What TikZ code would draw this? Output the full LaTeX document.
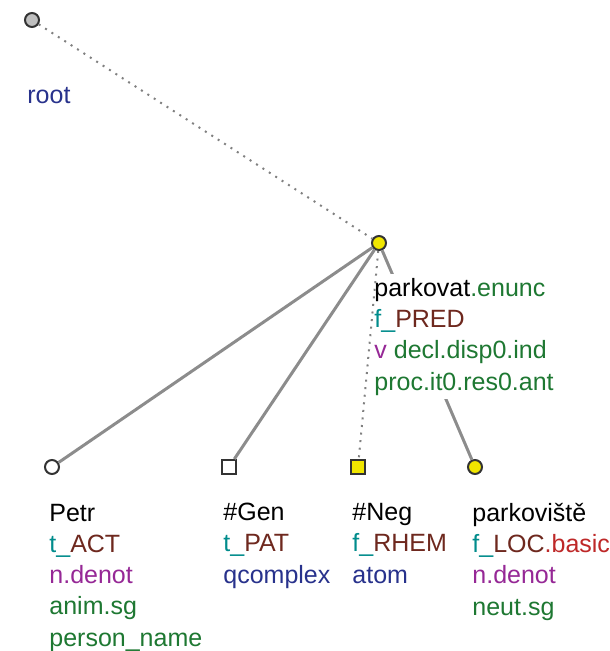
\documentclass[tikz,border=0pt]{standalone}
\usepackage{fontspec}
\setmainfont{Liberation Sans}
\usepackage{xcolor}
\usetikzlibrary{shapes.geometric, arrows, positioning, calc}
\definecolor{tcol}{RGB}{0,140,140}
\definecolor{funcol}{RGB}{110,40,30}
\definecolor{subcol}{RGB}{190,40,40}
\definecolor{poscol}{RGB}{150,40,150}
\definecolor{gramcol}{RGB}{30,120,50}
\definecolor{typecol}{RGB}{40,50,140}
\definecolor{nodeyellow}{RGB}{240,230,0}

\begin{document}
\begin{tikzpicture}[x=0.5pt, y=-0.5pt]
    \tikzstyle{tnode} = [circle, draw=black!80, line width=1pt, inner sep=0pt, minimum size=7pt, fill=white]
    \tikzstyle{tsquare} = [rectangle, draw=black!80, line width=1pt, inner sep=0pt, minimum size=7pt, fill=white]
    % anchor base = baseline of the last line
    \tikzstyle{tlabel} = [anchor=base west, align=left, inner xsep=1pt, inner ysep=2pt, fill=white, font=\fontsize{12.5}{15.6}\selectfont]
    \tikzstyle{edge} = [draw=black!45, line width=1.5pt]
    \tikzstyle{dotedge} = [draw=black!50, line width=1pt, dash pattern=on 1pt off 2.8pt]

    \useasboundingbox (0,0) rectangle (609,651);

    \node[tnode, fill=black!25] (root) at (32,20) {};
    \node[tnode, fill=nodeyellow] (parkovat) at (379,243) {};
    \node[tnode] (petr) at (52,467) {};
    \node[tsquare] (gen) at (229,467) {};
    \node[tsquare, fill=nodeyellow] (neg) at (358,467) {};
    \node[tnode, fill=nodeyellow] (parkoviste) at (475,467) {};

    \draw[dotedge] (root) -- (parkovat);
    \draw[edge] (parkovat) -- (petr);
    \draw[edge] (parkovat) -- (gen);
    \draw[edge] (parkovat) -- (parkoviste);

    \node[tlabel, text=typecol] (rootlbl) at (25,104) {root};
    \node[tlabel] (parkovatlbl) at (372,390) {parkovat\textcolor{gramcol}{.enunc}\\
        \textcolor{tcol}{f\_}\textcolor{funcol}{PRED}\\
        \textcolor{poscol}{v} \textcolor{gramcol}{decl.disp0.ind}\\
        \textcolor{gramcol}{proc.it0.res0.ant}};
    \node[tlabel] (petrlbl) at (47,646) {Petr\\
        \textcolor{tcol}{t\_}\textcolor{funcol}{ACT}\\
        \textcolor{poscol}{n.denot}\\
        \textcolor{gramcol}{anim.sg}\\
        \textcolor{gramcol}{person\_name}};
    \node[tlabel] (genlbl) at (221,583) {\#Gen\\
        \textcolor{tcol}{t\_}\textcolor{funcol}{PAT}\\
        \textcolor{typecol}{qcomplex}};
    \node[tlabel] (neglbl) at (350,583) {\#Neg\\
        \textcolor{tcol}{f\_}\textcolor{funcol}{RHEM}\\
        \textcolor{typecol}{atom}};
    \node[tlabel] (parkovistelbl) at (470,615) {parkoviště\\
        \textcolor{tcol}{f\_}\textcolor{funcol}{LOC}\textcolor{subcol}{.basic}\\
        \textcolor{poscol}{n.denot}\\
        \textcolor{gramcol}{neut.sg}};

    \draw[dotedge] (parkovat) -- (neg);
\end{tikzpicture}
\end{document}
